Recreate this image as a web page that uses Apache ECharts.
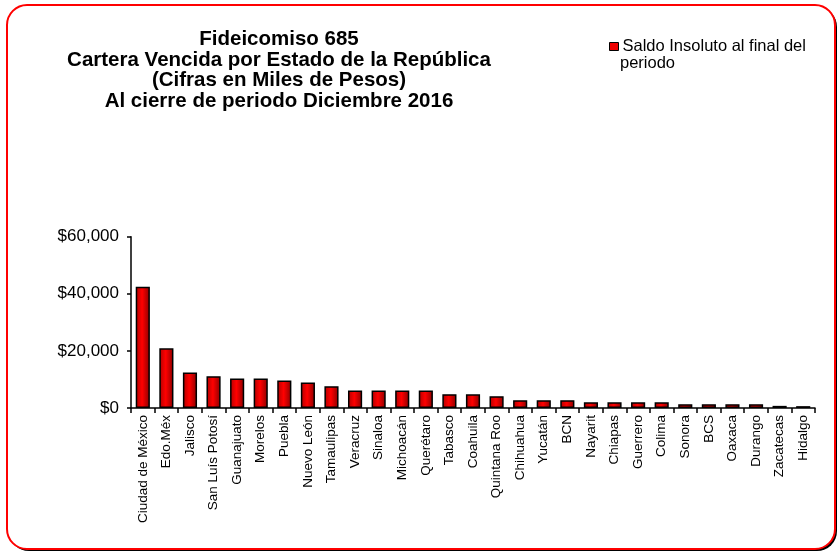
<!DOCTYPE html>
<html>
<head>
<meta charset="utf-8">
<style>html,body{margin:0;padding:0;background:#fff}#c{width:839px;height:553px}</style>
<script src="https://cdn.jsdelivr.net/npm/echarts@6/dist/echarts.min.js"></script>
</head>
<body>
<div id="c"></div>
<script>
const titleLines = ["Fideicomiso 685","Cartera Vencida por Estado de la República","(Cifras en Miles de Pesos)","Al cierre de periodo Diciembre 2016"];
const seriesName = "Saldo Insoluto al final del periodo";
const categories = ["Ciudad de México","Edo.Méx","Jalisco","San Luís Potosí","Guanajuato","Morelos","Puebla","Nuevo León","Tamaulipas","Veracruz","Sinaloa","Michoacán","Querétaro","Tabasco","Coahuila","Quintana Roo","Chihuahua","Yucatán","BCN","Nayarit","Chiapas","Guerrero","Colima","Sonora","BCS","Oaxaca","Durango","Zacatecas","Hidalgo"];
const values = [42500,20900,12450,11150,10350,10350,9650,8950,7650,6150,6150,6150,6150,4850,4800,4150,2750,2750,2750,2000,2000,2000,2000,1350,1350,1350,1350,750,650];
const yTicks = [0,20000,40000,60000];

const FONT = "Liberation Sans";
const chart = echarts.init(document.getElementById('c'), null, {renderer:'canvas'});
chart.setOption({
  backgroundColor: '#fff',
  animation: false,
  title: {
    text: titleLines.join('\n'),
    left: 274, top: 24, textAlign: 'center',
    textStyle: {fontFamily: FONT, fontWeight: 'bold', fontSize: 20.5, lineHeight: 20.7, color: '#000'}
  },
  legend: {
    data: [seriesName],
    left: 604, top: 33,
    itemWidth: 9, itemHeight: 8, itemGap: 4,
    icon: 'rect',
    formatter: function(){ return 'Saldo Insoluto al final del'; },
    itemStyle: {color: '#ee0000', borderColor: '#000', borderWidth: 1},
    textStyle: {fontFamily: FONT, fontSize: 16.5, color: '#000', padding: [0,0,0,-1]}
  },
  graphic: {elements: [
    {type:'rect', z:-20, silent:true, shape:{x:9, y:7, width:828, height:544, r:20}, style:{fill:'#000'}},
    {type:'rect', z:-19, silent:true, shape:{x:7, y:5, width:828, height:544, r:20}, style:{fill:'#fff', stroke:'#ff0000', lineWidth:2}},
    {type:'text', z:10, silent:true, left: 620, top: 55, style:{text:'periodo', font: '16.5px "Liberation Sans"', fill:'#000'}}
  ]},
  grid: {left: 131, right: 24, top: 236.7, bottom: 145, containLabel: false},
  xAxis: {
    type: 'category', data: categories,
    axisLine: {lineStyle: {color: '#000', width: 1.5}},
    axisTick: {show: true, alignWithLabel: false, length: 5, lineStyle: {color:'#000', width: 1.5}},
    axisLabel: {rotate: 90, interval: 0, margin: 7, fontFamily: FONT, fontSize: 13.5, color: '#000'},
    splitLine: {show: false}
  },
  yAxis: {
    type: 'value', min: 0, max: 60000, interval: 20000,
    axisLine: {show: true, lineStyle: {color: '#000', width: 1.5}},
    axisTick: {show: true, length: 4, lineStyle: {color:'#000', width: 1.5}},
    splitLine: {show: false},
    axisLabel: {
      margin: 12, fontFamily: FONT, fontSize: 17, color: '#000',
      formatter: function(v){ return yTicks.indexOf(v) >= 0 ? '$' + v.toLocaleString('en-US') : ''; }
    }
  },
  series: [{
    name: seriesName, type: 'bar', data: values,
    barCategoryGap: '40%',
    itemStyle: {
      color: new echarts.graphic.LinearGradient(0,0,1,0,[
        {offset:0, color:'#b00000'},{offset:0.45, color:'#ff0000'},{offset:1, color:'#8a0000'}
      ]),
      borderColor: '#000', borderWidth: 1.5
    }
  }]
});
</script>
</body>
</html>
